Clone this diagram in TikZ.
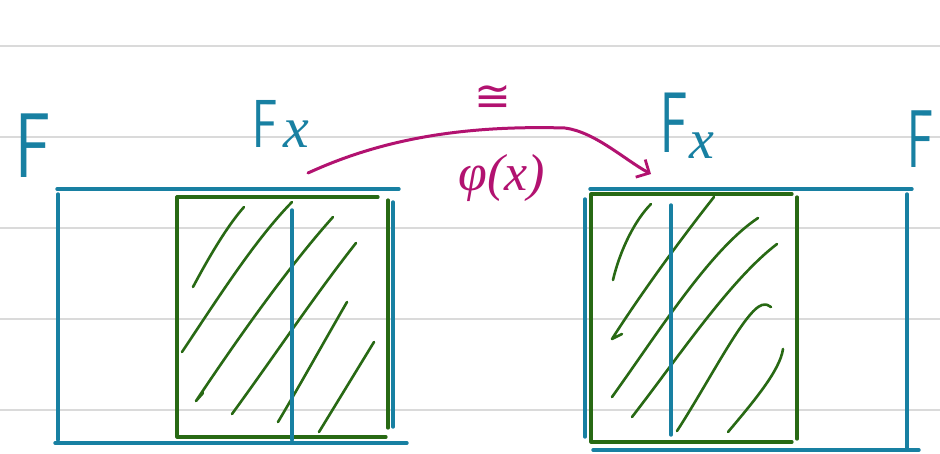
\documentclass[tikz,border=0pt]{standalone}
\usepackage{fontspec}
\newfontfamily\symfont{DejaVu Sans}
\newfontfamily\serfont{Liberation Serif}
\usetikzlibrary{arrows.meta}
\definecolor{inkblue}{RGB}{24,128,162}
\definecolor{inkgreen}{RGB}{40,105,20}
\definecolor{inkmag}{RGB}{178,18,112}
\definecolor{rulegrey}{RGB}{218,218,218}
\begin{document}
\begin{tikzpicture}[x=1pt,y=-1pt,
  blueln/.style={draw=inkblue,line width=3.4pt,line cap=round},
  greenln/.style={draw=inkgreen,line width=3.2pt,line cap=round,line join=round},
  hatch/.style={draw=inkgreen,line width=2.6pt,line cap=round,line join=round},
  ruleln/.style={draw=rulegrey,line width=2.4pt},
  arrowln/.style={draw=inkmag,line width=3pt,line cap=round},
  lbl/.style={inner sep=0pt,text=inkblue},
  mlbl/.style={inner sep=0pt,text=inkmag}]
\fill[white] (0,0) rectangle (940,453);
\useasboundingbox (0,0) rectangle (940,453);
% ruled paper
\foreach \yy in {46,137,228,319,410} \draw[ruleln] (0,\yy) -- (940,\yy);
% ---- left figure
\draw[blueln] (57,189) -- (399,189);
\draw[blueln] (58,194) -- (58,440);
\draw[blueln] (55,443) -- (407,443);
\draw[greenln] (388,200) -- (388,428);
\draw[blueln] (393,202) -- (393,427);
\draw[greenln] (378,197) -- (177,197) -- (177,437) -- (386,437);
\draw[hatch] (193,287) .. controls (210,255) and (228,225) .. (244,207);
\draw[hatch] (182,352) .. controls (220,295) and (255,240) .. (292,202);
\draw[hatch] (203,393) -- (196,401) .. controls (240,335) and (290,265) .. (333,217);
\draw[hatch] (232,414) .. controls (275,355) and (315,295) .. (356,243);
\draw[hatch] (278,422) .. controls (300,385) and (325,340) .. (347,302);
\draw[hatch] (319,432) -- (374,342);
\draw[blueln] (292,210) -- (292,440);
% ---- right figure
\draw[blueln] (590,189) -- (912,189);
\draw[blueln] (585,199) -- (585,437);
\draw[greenln] (792,194) -- (591,194) -- (591,442) -- (792,442);
\draw[greenln] (797,197) -- (797,439);
\draw[blueln] (593,450) -- (919,450);
\draw[blueln] (907,194) -- (907,448);
\draw[hatch] (613,280) .. controls (620,250) and (635,220) .. (651,204);
\draw[hatch] (622,334) -- (612,339) .. controls (640,295) and (680,240) .. (714,197);
\draw[hatch] (612,397) .. controls (660,330) and (710,250) .. (758,218);
\draw[hatch] (632,417) .. controls (680,355) and (730,280) .. (777,244);
\draw[hatch] (677,431) .. controls (710,380) and (745,310) .. (762,305) .. controls (766,304) and (769,305) .. (771,307);
\draw[hatch] (728,432) .. controls (755,400) and (780,370) .. (783,349);
\draw[blueln] (671,205) -- (671,435);
% ---- labels
\node[lbl,anchor=base west,xscale=0.72,font=\fontsize{92}{92}\selectfont\sffamily] (Fl) at (15,177) {F};
\node[lbl,anchor=base west,xscale=0.7,font=\fontsize{68}{68}\selectfont\sffamily] (Fxl) at (252,147) {F};
\node[lbl,anchor=base west,font=\fontsize{58}{58}\selectfont\serfont\itshape] (xl) at (283,147) {x};
\node[lbl,anchor=base west,xscale=0.6,font=\fontsize{86}{86}\selectfont\sffamily] (Fxr) at (660,152) {F};
\node[lbl,anchor=base west,font=\fontsize{56}{56}\selectfont\serfont\itshape] (xr) at (689,158) {x};
\node[lbl,anchor=base west,xscale=0.6,font=\fontsize{82}{82}\selectfont\sffamily] (Fr) at (907,167) {F};
% ---- isomorphism arrow
\coordinate (as) at (308,173);
\coordinate (ae) at (651,174);
\draw[arrowln,-{Straight Barb[length=10pt,width=20pt,line width=2.8pt]}] (as) .. controls (380,140) and (460,125) .. (565,128) .. controls (595,132) and (625,160) .. (ae);
\node[mlbl,font=\fontsize{44}{44}\selectfont\symfont] (cong) at (493,98) {≅};
\node[mlbl,font=\fontsize{52}{52}\selectfont\serfont\itshape] (phi) at (502,178) {φ(x)};
\end{tikzpicture}
\end{document}
